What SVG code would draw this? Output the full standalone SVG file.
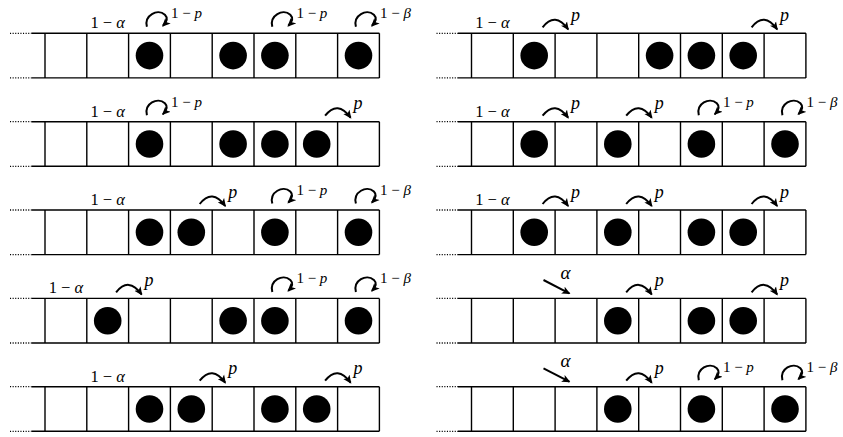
<svg xmlns="http://www.w3.org/2000/svg" xmlns:xlink="http://www.w3.org/1999/xlink" width="843" height="437" viewBox="0 0 843 437">
<style>
.ln{stroke:#000;stroke-width:1.4;fill:none}
.dt{stroke:#000;stroke-width:1.3;stroke-dasharray:1.1 1.5;fill:none}
.dot{fill:#000}
.arr{stroke:#000;stroke-width:2;fill:none;marker-end:url(#ah)}
text{font-family:"Liberation Serif","DejaVu Serif",serif;fill:#000}
.la{font-size:16.5px;text-anchor:middle}
.sup{font-size:15px}
.pl{font-size:18px;font-style:italic}
.al{font-size:19px;font-style:italic}
.it{font-style:italic}
</style>
<defs>
<marker id="ah" viewBox="0 0 10 10" refX="8.5" refY="5" markerWidth="8.5" markerHeight="8.5" markerUnits="userSpaceOnUse" orient="auto">
<path d="M0,0.5 L10,5 L0,9.5 L2.5,5 z" fill="#000"/>
</marker>
<g id="grid">
<path class="dt" d="M-35,0 H-13.5 M-35,44.6 H-13.5"/>
<path class="ln" d="M-13.5,0 H334.4 M-13.5,44.6 H334.4 M0,0 V44.6 M41.8,0 V44.6 M83.6,0 V44.6 M125.4,0 V44.6 M167.2,0 V44.6 M209,0 V44.6 M250.8,0 V44.6 M292.6,0 V44.6 M334.4,0 V44.6"/>
</g>
</defs>

<!-- Left column -->
<g id="L1" transform="translate(45,33.3)">
<use xlink:href="#grid"/>
<circle class="dot" cx="104.5" cy="22.3" r="13.8"/><circle class="dot" cx="188.1" cy="22.3" r="13.8"/><circle class="dot" cx="229.9" cy="22.3" r="13.8"/><circle class="dot" cx="313.5" cy="22.3" r="13.8"/>
<text class="la" x="62.7" y="-5">1 − <tspan class="it">α</tspan></text>
<text class="sup" x="126" y="-15">1 − <tspan class="it">p</tspan></text>
<text class="sup" x="251.4" y="-15">1 − <tspan class="it">p</tspan></text>
<text class="sup" x="335" y="-15">1 − <tspan class="it">β</tspan></text>
</g>
<g id="L2" transform="translate(45,121.7)">
<use xlink:href="#grid"/>
<circle class="dot" cx="104.5" cy="22.3" r="13.8"/><circle class="dot" cx="188.1" cy="22.3" r="13.8"/><circle class="dot" cx="229.9" cy="22.3" r="13.8"/><circle class="dot" cx="271.7" cy="22.3" r="13.8"/>
<text class="la" x="62.7" y="-5">1 − <tspan class="it">α</tspan></text>
<text class="sup" x="126" y="-15">1 − <tspan class="it">p</tspan></text>
<text class="pl" x="308.6" y="-12.5">p</text>
</g>
<g id="L3" transform="translate(45,210)">
<use xlink:href="#grid"/>
<circle class="dot" cx="104.5" cy="22.3" r="13.8"/><circle class="dot" cx="146.3" cy="22.3" r="13.8"/><circle class="dot" cx="229.9" cy="22.3" r="13.8"/><circle class="dot" cx="313.5" cy="22.3" r="13.8"/>
<text class="la" x="62.7" y="-5">1 − <tspan class="it">α</tspan></text>
<text class="pl" x="183.2" y="-12.5">p</text>
<text class="sup" x="251.4" y="-15">1 − <tspan class="it">p</tspan></text>
<text class="sup" x="335" y="-15">1 − <tspan class="it">β</tspan></text>
</g>
<g id="L4" transform="translate(45,298.4)">
<use xlink:href="#grid"/>
<circle class="dot" cx="62.7" cy="22.3" r="13.8"/><circle class="dot" cx="188.1" cy="22.3" r="13.8"/><circle class="dot" cx="229.9" cy="22.3" r="13.8"/><circle class="dot" cx="313.5" cy="22.3" r="13.8"/>
<text class="la" x="20.9" y="-5">1 − <tspan class="it">α</tspan></text>
<text class="pl" x="99.6" y="-12.5">p</text>
<text class="sup" x="251.4" y="-15">1 − <tspan class="it">p</tspan></text>
<text class="sup" x="335" y="-15">1 − <tspan class="it">β</tspan></text>
</g>
<g id="L5" transform="translate(45,386.7)">
<use xlink:href="#grid"/>
<circle class="dot" cx="104.5" cy="22.3" r="13.8"/><circle class="dot" cx="146.3" cy="22.3" r="13.8"/><circle class="dot" cx="229.9" cy="22.3" r="13.8"/><circle class="dot" cx="271.7" cy="22.3" r="13.8"/>
<text class="la" x="62.7" y="-5">1 − <tspan class="it">α</tspan></text>
<text class="pl" x="183.2" y="-12.5">p</text>
<text class="pl" x="308.6" y="-12.5">p</text>
</g>

<!-- Right column -->
<g id="R1" transform="translate(471.5,33.3)">
<use xlink:href="#grid"/>
<circle class="dot" cx="62.7" cy="22.3" r="13.8"/><circle class="dot" cx="188.1" cy="22.3" r="13.8"/><circle class="dot" cx="229.9" cy="22.3" r="13.8"/><circle class="dot" cx="271.7" cy="22.3" r="13.8"/>
<text class="la" x="20.9" y="-5">1 − <tspan class="it">α</tspan></text>
<text class="pl" x="99.6" y="-12.5">p</text>
<text class="pl" x="308.6" y="-12.5">p</text>
</g>
<g id="R2" transform="translate(471.5,121.7)">
<use xlink:href="#grid"/>
<circle class="dot" cx="62.7" cy="22.3" r="13.8"/><circle class="dot" cx="146.3" cy="22.3" r="13.8"/><circle class="dot" cx="229.9" cy="22.3" r="13.8"/><circle class="dot" cx="313.5" cy="22.3" r="13.8"/>
<text class="la" x="20.9" y="-5">1 − <tspan class="it">α</tspan></text>
<text class="pl" x="99.6" y="-12.5">p</text>
<text class="pl" x="183.2" y="-12.5">p</text>
<text class="sup" x="251.4" y="-15">1 − <tspan class="it">p</tspan></text>
<text class="sup" x="335" y="-15">1 − <tspan class="it">β</tspan></text>
</g>
<g id="R3" transform="translate(471.5,210)">
<use xlink:href="#grid"/>
<circle class="dot" cx="62.7" cy="22.3" r="13.8"/><circle class="dot" cx="146.3" cy="22.3" r="13.8"/><circle class="dot" cx="229.9" cy="22.3" r="13.8"/><circle class="dot" cx="271.7" cy="22.3" r="13.8"/>
<text class="la" x="20.9" y="-5">1 − <tspan class="it">α</tspan></text>
<text class="pl" x="99.6" y="-12.5">p</text>
<text class="pl" x="183.2" y="-12.5">p</text>
<text class="pl" x="308.6" y="-12.5">p</text>
</g>
<g id="R4" transform="translate(471.5,298.4)">
<use xlink:href="#grid"/>
<circle class="dot" cx="146.3" cy="22.3" r="13.8"/><circle class="dot" cx="229.9" cy="22.3" r="13.8"/><circle class="dot" cx="271.7" cy="22.3" r="13.8"/>
<text class="al" x="89" y="-19.5">α</text>
<text class="pl" x="183.2" y="-12.5">p</text>
<text class="pl" x="308.6" y="-12.5">p</text>
</g>
<g id="R5" transform="translate(471.5,386.7)">
<use xlink:href="#grid"/>
<circle class="dot" cx="146.3" cy="22.3" r="13.8"/><circle class="dot" cx="229.9" cy="22.3" r="13.8"/><circle class="dot" cx="313.5" cy="22.3" r="13.8"/>
<text class="al" x="89" y="-19.5">α</text>
<text class="pl" x="183.2" y="-12.5">p</text>
<text class="sup" x="251.4" y="-15">1 − <tspan class="it">p</tspan></text>
<text class="sup" x="335" y="-15">1 − <tspan class="it">β</tspan></text>
</g>

<!-- Connectors: loops, hops, injections -->
<g id="connectors">
<g transform="translate(45,33.3)">
<path class="arr" transform="translate(125.4,0)" d="M-23.5,-6.5 C-26.5,-18 -13,-25 -5.5,-18.5 C-2.5,-15.5 -3.5,-11.5 -7.5,-7.5"/>
<path class="arr" transform="translate(250.8,0)" d="M-23.5,-6.5 C-26.5,-18 -13,-25 -5.5,-18.5 C-2.5,-15.5 -3.5,-11.5 -7.5,-7.5"/>
<path class="arr" transform="translate(334.4,0)" d="M-23.5,-6.5 C-26.5,-18 -13,-25 -5.5,-18.5 C-2.5,-15.5 -3.5,-11.5 -7.5,-7.5"/>
</g>
<g transform="translate(45,121.7)">
<path class="arr" transform="translate(125.4,0)" d="M-23.5,-6.5 C-26.5,-18 -13,-25 -5.5,-18.5 C-2.5,-15.5 -3.5,-11.5 -7.5,-7.5"/>
<path class="arr" transform="translate(292.6,0)" d="M-12.5,-6 Q0,-22 13,-4"/>
</g>
<g transform="translate(45,210)">
<path class="arr" transform="translate(167.2,0)" d="M-12.5,-6 Q0,-22 13,-4"/>
<path class="arr" transform="translate(250.8,0)" d="M-23.5,-6.5 C-26.5,-18 -13,-25 -5.5,-18.5 C-2.5,-15.5 -3.5,-11.5 -7.5,-7.5"/>
<path class="arr" transform="translate(334.4,0)" d="M-23.5,-6.5 C-26.5,-18 -13,-25 -5.5,-18.5 C-2.5,-15.5 -3.5,-11.5 -7.5,-7.5"/>
</g>
<g transform="translate(45,298.4)">
<path class="arr" transform="translate(83.6,0)" d="M-12.5,-6 Q0,-22 13,-4"/>
<path class="arr" transform="translate(250.8,0)" d="M-23.5,-6.5 C-26.5,-18 -13,-25 -5.5,-18.5 C-2.5,-15.5 -3.5,-11.5 -7.5,-7.5"/>
<path class="arr" transform="translate(334.4,0)" d="M-23.5,-6.5 C-26.5,-18 -13,-25 -5.5,-18.5 C-2.5,-15.5 -3.5,-11.5 -7.5,-7.5"/>
</g>
<g transform="translate(45,386.7)">
<path class="arr" transform="translate(167.2,0)" d="M-12.5,-6 Q0,-22 13,-4"/>
<path class="arr" transform="translate(292.6,0)" d="M-12.5,-6 Q0,-22 13,-4"/>
</g>
<g transform="translate(471.5,33.3)">
<path class="arr" transform="translate(83.6,0)" d="M-12.5,-6 Q0,-22 13,-4"/>
<path class="arr" transform="translate(292.6,0)" d="M-12.5,-6 Q0,-22 13,-4"/>
</g>
<g transform="translate(471.5,121.7)">
<path class="arr" transform="translate(83.6,0)" d="M-12.5,-6 Q0,-22 13,-4"/>
<path class="arr" transform="translate(167.2,0)" d="M-12.5,-6 Q0,-22 13,-4"/>
<path class="arr" transform="translate(250.8,0)" d="M-23.5,-6.5 C-26.5,-18 -13,-25 -5.5,-18.5 C-2.5,-15.5 -3.5,-11.5 -7.5,-7.5"/>
<path class="arr" transform="translate(334.4,0)" d="M-23.5,-6.5 C-26.5,-18 -13,-25 -5.5,-18.5 C-2.5,-15.5 -3.5,-11.5 -7.5,-7.5"/>
</g>
<g transform="translate(471.5,210)">
<path class="arr" transform="translate(83.6,0)" d="M-12.5,-6 Q0,-22 13,-4"/>
<path class="arr" transform="translate(167.2,0)" d="M-12.5,-6 Q0,-22 13,-4"/>
<path class="arr" transform="translate(292.6,0)" d="M-12.5,-6 Q0,-22 13,-4"/>
</g>
<g transform="translate(471.5,298.4)">
<path class="arr" transform="translate(83.6,0)" d="M-11.6,-18.4 L14.2,-5"/>
<path class="arr" transform="translate(167.2,0)" d="M-12.5,-6 Q0,-22 13,-4"/>
<path class="arr" transform="translate(292.6,0)" d="M-12.5,-6 Q0,-22 13,-4"/>
</g>
<g transform="translate(471.5,386.7)">
<path class="arr" transform="translate(83.6,0)" d="M-11.6,-18.4 L14.2,-5"/>
<path class="arr" transform="translate(167.2,0)" d="M-12.5,-6 Q0,-22 13,-4"/>
<path class="arr" transform="translate(250.8,0)" d="M-23.5,-6.5 C-26.5,-18 -13,-25 -5.5,-18.5 C-2.5,-15.5 -3.5,-11.5 -7.5,-7.5"/>
<path class="arr" transform="translate(334.4,0)" d="M-23.5,-6.5 C-26.5,-18 -13,-25 -5.5,-18.5 C-2.5,-15.5 -3.5,-11.5 -7.5,-7.5"/>
</g>
</g>
</svg>
